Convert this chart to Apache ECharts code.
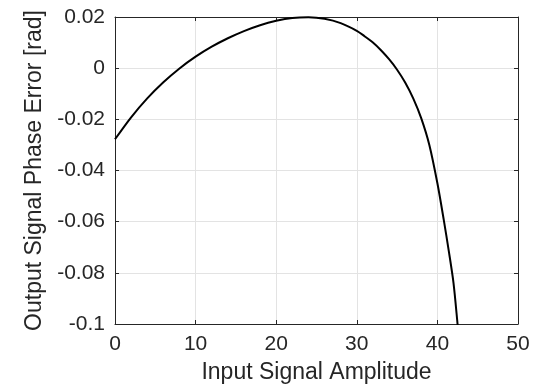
<!DOCTYPE html>
<html>
<head>
<meta charset="utf-8">
<script src="https://cdn.jsdelivr.net/npm/echarts@6/dist/echarts.min.js"></script>
<style>
html,body{margin:0;padding:0;background:#fff;}
#chart{width:549px;height:389px;}
</style>
</head>
<body>
<div id="chart"></div>
<script>
// Data
var amplitude = [0, 2, 4, 6, 8, 10, 12, 14, 16, 18, 20, 22, 24, 26, 28, 30, 31, 32, 33, 34, 35, 36, 37, 38, 39, 40, 40.8, 41.4, 42, 42.5, 42.7];
var phaseError = [-0.0278, -0.0192, -0.0118, -0.0055, -0.0001, 0.0045, 0.0084, 0.0117, 0.0145, 0.0168, 0.0185, 0.0196, 0.0199, 0.0193, 0.0176, 0.0146, 0.0124, 0.0100, 0.0070, 0.0035, -0.0006, -0.0056, -0.0118, -0.0196, -0.0300, -0.0450, -0.0595, -0.0712, -0.0840, -0.1000, -0.1070];
var xTicks = [0, 10, 20, 30, 40, 50];
var yTicks = [-0.1, -0.08, -0.06, -0.04, -0.02, 0, 0.02];
var yTickLabels = ['-0.1', '-0.08', '-0.06', '-0.04', '-0.02', '0', '0.02'];
var xTitle = 'Input Signal Amplitude';
var yTitle = 'Output Signal Phase Error [rad]';

var points = amplitude.map(function (x, i) { return [x, phaseError[i]]; });
var axisColor = '#262626';
var gridColor = '#e3e3e3';
var font = 'Liberation Sans, Arial, Helvetica, sans-serif';

function yLabel(v) {
  for (var i = 0; i < yTicks.length; i++) {
    if (Math.abs(yTicks[i] - v) < 1e-9) return yTickLabels[i];
  }
  return '';
}

var chart = echarts.init(document.getElementById('chart'), null, {renderer: 'canvas'});
chart.setOption({
  animation: false,
  backgroundColor: '#ffffff',
  grid: {left: 115, right: 31, top: 17, bottom: 64, containLabel: false},
  xAxis: [{
    type: 'value', position: 'bottom',
    min: xTicks[0], max: xTicks[xTicks.length - 1], interval: 10,
    name: xTitle, nameLocation: 'middle', nameGap: 37,
    nameTextStyle: {color: axisColor, fontSize: 23, fontFamily: font},
    axisLine: {show: true, onZero: false, lineStyle: {color: axisColor, width: 1}},
    axisTick: {show: true, inside: true, length: 4, lineStyle: {color: axisColor}},
    axisLabel: {color: axisColor, fontSize: 21, fontFamily: font, margin: 10},
    splitLine: {show: true, lineStyle: {color: gridColor, width: 1}}
  }, {
    type: 'value', position: 'top',
    min: xTicks[0], max: xTicks[xTicks.length - 1], interval: 10,
    axisLine: {show: true, onZero: false, lineStyle: {color: axisColor, width: 1}},
    axisTick: {show: true, inside: true, length: 4, lineStyle: {color: axisColor}},
    axisLabel: {show: false},
    splitLine: {show: false}
  }],
  yAxis: [{
    type: 'value', position: 'left',
    min: -0.1, max: 0.02, interval: 0.02,
    name: yTitle, nameLocation: 'middle', nameGap: 62, nameRotate: 90,
    nameTextStyle: {color: axisColor, fontSize: 23, fontFamily: font},
    axisLine: {show: true, onZero: false, lineStyle: {color: axisColor, width: 1}},
    axisTick: {show: true, inside: true, length: 4, lineStyle: {color: axisColor}},
    axisLabel: {color: axisColor, fontSize: 21, fontFamily: font, margin: 10, formatter: yLabel},
    splitLine: {show: true, lineStyle: {color: gridColor, width: 1}}
  }, {
    type: 'value', position: 'right',
    min: -0.1, max: 0.02, interval: 0.02,
    axisLine: {show: true, onZero: false, lineStyle: {color: axisColor, width: 1}},
    axisTick: {show: true, inside: true, length: 4, lineStyle: {color: axisColor}},
    axisLabel: {show: false},
    splitLine: {show: false}
  }],
  series: [{
    type: 'line',
    xAxisIndex: 0, yAxisIndex: 0,
    data: points,
    showSymbol: false,
    smooth: 0.3,
    clip: true,
    lineStyle: {color: '#000000', width: 2}
  }]
});
</script>
</body>
</html>
